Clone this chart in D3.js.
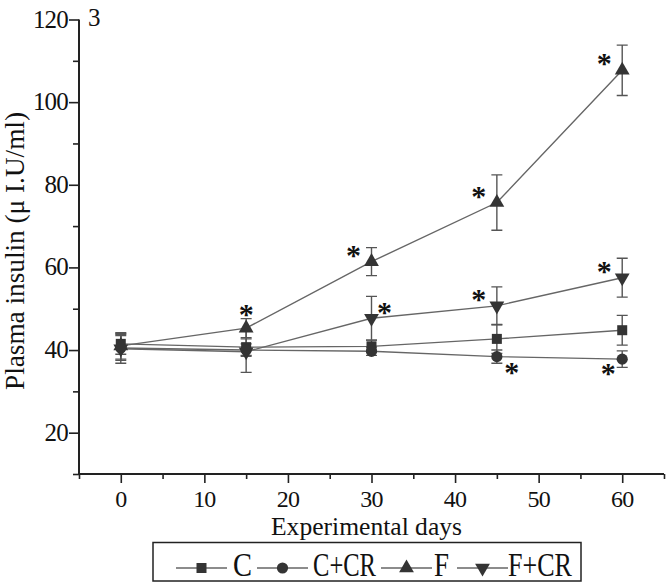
<!DOCTYPE html>
<html>
<head>
<meta charset="utf-8">
<script src="https://cdn.jsdelivr.net/npm/d3@7"></script>
<style>
  body { margin: 0; background: #fff; }
  svg text { font-family: "Liberation Serif", "Times New Roman", serif; fill: #111; }
</style>
</head>
<body>
<div id="chart"></div>
<script>
// values (plasma insulin, mean and error bar half-height)
const days = [0, 15, 30, 45, 60];
const seriesNames = ["C", "C+CR", "F", "F+CR"];
const meanC = [41.5, 40.7, 40.9, 42.7, 44.8];
const errC = [2.5, 2.0, 1.5, 3.5, 3.6];
const meanCCR = [40.5, 40.0, 39.7, 38.4, 37.8];
const errCCR = [3.0, 1.5, 1.0, 1.6, 2.0];
const meanF = [41.0, 45.3, 61.4, 75.7, 107.7];
const errF = [3.2, 2.3, 3.4, 6.7, 6.1];
const meanFCR = [40.3, 39.6, 47.7, 50.7, 57.5];
const errFCR = [3.5, 5.0, 5.3, 4.6, 4.7];
const xTicks = [0, 10, 20, 30, 40, 50, 60];
const yTicks = [20, 40, 60, 80, 100, 120];

// significant differences, marked with "*"
const starSeries = ["F", "F", "F", "F", "F+CR", "F+CR", "F+CR", "C+CR", "C+CR"];
const starDays = [15, 30, 45, 60, 30, 45, 60, 45, 60];
const starPlace = ["above", "upleft", "upleft", "upleft", "upright", "upleft", "upleft", "downright", "downleft"];

const means = [meanC, meanCCR, meanF, meanFCR];
const errs = [errC, errCCR, errF, errFCR];
const shapes = ["square", "circle", "up", "down"];

const width = 670, height = 584;
const svg = d3.select("#chart").append("svg")
    .attr("width", width)
    .attr("height", height);

const x = d3.scaleLinear().domain([-5, 65]).range([79, 664]);
const y = d3.scaleLinear().domain([10, 120]).range([474, 19.5]);

// axes: left and bottom only, ticks outward, minor ticks between
const xAxis = svg.append("g")
    .attr("transform", "translate(0," + y(10) + ")")
    .call(d3.axisBottom(x).tickValues(d3.range(-5, 66, 5)).tickSize(5).tickFormat(""));
xAxis.selectAll(".tick line").attr("y2", d => d % 10 === 0 ? 9 : 5);
xAxis.selectAll("path").attr("d", "M" + x(-5) + ",0H" + x(65));

const yAxis = svg.append("g")
    .attr("transform", "translate(" + x(-5) + ",0)")
    .call(d3.axisLeft(y).tickValues(d3.range(10, 121, 10)).tickSize(5).tickFormat(""));
yAxis.selectAll(".tick line").attr("x2", d => d % 20 === 0 ? -10 : -6);
yAxis.selectAll("path").attr("d", "M0," + y(10) + "V" + y(120));

svg.selectAll(".domain").attr("stroke", "#222").attr("stroke-width", 2);
svg.selectAll(".tick line").attr("stroke", "#222").attr("stroke-width", 1.6);

svg.append("g").selectAll("text")
    .data(xTicks).join("text")
    .attr("x", d => x(d))
    .attr("y", 507)
    .attr("text-anchor", "middle")
    .attr("font-size", 24)
    .attr("letter-spacing", -0.8)
    .text(d => d);

svg.append("g").selectAll("text")
    .data(yTicks).join("text")
    .attr("x", 68)
    .attr("y", d => y(d) + 8)
    .attr("text-anchor", "end")
    .attr("font-size", 25)
    .attr("letter-spacing", -0.8)
    .text(d => d);

svg.append("text")
    .attr("x", 88).attr("y", 26)
    .attr("font-size", 25)
    .text("3");

svg.append("text")
    .attr("x", 271).attr("y", 535)
    .attr("font-size", 25)
    .attr("textLength", 191)
    .attr("lengthAdjust", "spacingAndGlyphs")
    .text("Experimental days");

svg.append("text")
    .attr("transform", "translate(24,390) rotate(-90)")
    .attr("font-size", 27)
    .attr("textLength", 278)
    .attr("lengthAdjust", "spacingAndGlyphs")
    .text("Plasma insulin (\u03bc I.U/ml)");

const markerColor = "#343434";
const lineColor = "#666";

function drawMarker(g, shape, cx, cy, s) {
  if (shape === "square") {
    g.append("rect").attr("x", cx - 5 * s).attr("y", cy - 5 * s)
      .attr("width", 10 * s).attr("height", 10 * s).attr("fill", markerColor);
  } else if (shape === "circle") {
    g.append("circle").attr("cx", cx).attr("cy", cy).attr("r", 5.6 * s).attr("fill", markerColor);
  } else {
    const sym = d3.symbol().type(d3.symbolTriangle).size(95 * s * s);
    g.append("path").attr("d", sym())
      .attr("transform", "translate(" + cx + "," + cy + ")" + (shape === "down" ? " rotate(180)" : ""))
      .attr("fill", markerColor);
  }
}

const line = d3.line().x(d => x(d[0])).y(d => y(d[1]));
const plot = svg.append("g");

seriesNames.forEach((name, i) => {
  const pts = days.map((d, j) => [d, means[i][j]]);
  plot.append("path").datum(pts)
    .attr("d", line)
    .attr("fill", "none")
    .attr("stroke", lineColor)
    .attr("stroke-width", 1.4);
});

seriesNames.forEach((name, i) => {
  const g = plot.append("g");
  days.forEach((d, j) => {
    const m = means[i][j], e = errs[i][j];
    const cx = x(d);
    g.append("path")
      .attr("d", "M" + cx + "," + y(m - e) + "V" + y(m + e) +
        "M" + (cx - 5.5) + "," + y(m + e) + "H" + (cx + 5.5) +
        "M" + (cx - 5.5) + "," + y(m - e) + "H" + (cx + 5.5))
      .attr("fill", "none")
      .attr("stroke", "#555")
      .attr("stroke-width", 1.4);
  });
});

seriesNames.forEach((name, i) => {
  const g = plot.append("g");
  days.forEach((d, j) => drawMarker(g, shapes[i], x(d), y(means[i][j]), 1));
});

// asterisks placed next to the marker they belong to
const placeOffset = {
  above: [0, -18], upleft: [-18, -11], upright: [13, -10],
  downright: [15, 11], downleft: [-14, 10]
};
starSeries.forEach((s, k) => {
  const i = seriesNames.indexOf(s);
  const j = days.indexOf(starDays[k]);
  const off = placeOffset[starPlace[k]];
  svg.append("text")
    .attr("x", x(starDays[k]) + off[0])
    .attr("y", y(means[i][j]) + off[1] + 14)
    .attr("text-anchor", "middle")
    .attr("font-size", 30)
    .attr("font-weight", "bold")
    .text("*");
});

// legend
const legend = svg.append("g");
legend.append("rect")
  .attr("x", 153).attr("y", 542.5)
  .attr("width", 428).attr("height", 38.5)
  .attr("fill", "none")
  .attr("stroke", "#222")
  .attr("stroke-width", 1.5);
const legX = [176, 257, 381, 457];
const legTextX = [233, 313, 434, 508];
const legTextW = [19, 63, 15, 64];
seriesNames.forEach((name, i) => {
  legend.append("line")
    .attr("x1", legX[i]).attr("x2", legX[i] + 51)
    .attr("y1", 568).attr("y2", 568)
    .attr("stroke", lineColor).attr("stroke-width", 1.3);
  drawMarker(legend, shapes[i], legX[i] + 25.5, 568, 1);
  legend.append("text")
    .attr("x", legTextX[i]).attr("y", 576)
    .attr("font-size", 34)
    .attr("textLength", legTextW[i])
    .attr("lengthAdjust", "spacingAndGlyphs")
    .text(name);
});
</script>
</body>
</html>
